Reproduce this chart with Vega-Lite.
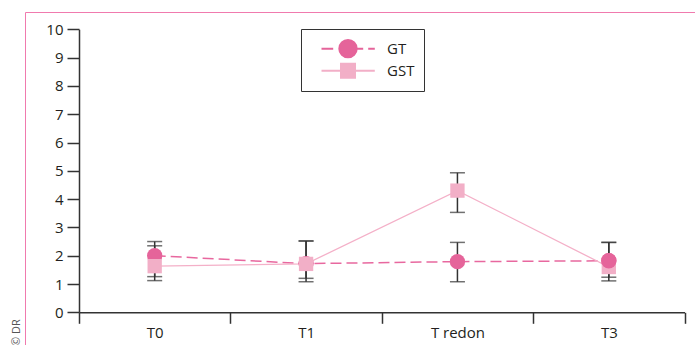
{
  "$schema": "https://vega.github.io/schema/vega-lite/v6.json",
  "autosize": "none",
  "width": 672,
  "height": 334,
  "padding": {"left": 25, "top": 12, "right": 0, "bottom": 0},
  "background": "white",
  "title": {"text": "© DR", "orient": "left", "anchor": "start", "fontSize": 11, "fontWeight": "normal", "color": "#555555", "font": "Open Sans", "offset": 3},
  "config": {
    "view": {"stroke": "#F07AAE", "strokeWidth": 1},
    "font": "Open Sans",
    "axis": {"grid": false, "title": null, "domainColor": "#333333", "tickColor": "#333333", "domainWidth": 1.5, "tickWidth": 1.5, "labelColor": "#231F20", "labelFont": "Open Sans", "labelFontSize": 15},
    "axisY": {"tickCount": 20, "labelOverlap": false, "tickSize": 12, "labelPadding": 4, "offset": -54}
  },
  "data": {"values": [
    {"time": "T0", "group": "GT", "mean": 2.0, "lo": 1.26, "hi": 2.5},
    {"time": "T1", "group": "GT", "mean": 1.72, "lo": 1.2, "hi": 2.52},
    {"time": "T redon", "group": "GT", "mean": 1.79, "lo": 1.08, "hi": 2.47},
    {"time": "T3", "group": "GT", "mean": 1.82, "lo": 1.24, "hi": 2.47},
    {"time": "T0", "group": "GST", "mean": 1.63, "lo": 1.12, "hi": 2.35},
    {"time": "T1", "group": "GST", "mean": 1.71, "lo": 1.08, "hi": 2.52},
    {"time": "T redon", "group": "GST", "mean": 4.3, "lo": 3.53, "hi": 4.93},
    {"time": "T3", "group": "GST", "mean": 1.6, "lo": 1.11, "hi": 2.47}
  ]},
  "encoding": {
    "x": {"field": "time", "type": "nominal", "sort": ["T0", "T1", "T redon", "T3"],
      "scale": {"range": [54, 659.5], "paddingInner": 0, "paddingOuter": 0},
      "axis": {"orient": "bottom", "offset": -33.7, "tickBand": "extent", "tickSize": 11, "labelPadding": 2, "labelAngle": 0}}
  },
  "layer": [
    {
      "mark": {"type": "rule", "color": "#333333", "strokeWidth": 1.5},
      "encoding": {
        "y": {"field": "lo", "type": "quantitative", "scale": {"domain": [0, 10], "range": [300.3, 17.3], "nice": false},
          "axis": {"values": [0,1,2,3,4,5,6,7,8,9,10], "tickCount": 20, "format": "d"}},
        "y2": {"field": "hi"}
      }
    },
    {
      "mark": {"type": "tick", "color": "#333333", "thickness": 1.5, "size": 15, "orient": "horizontal"},
      "encoding": {"y": {"field": "lo", "type": "quantitative"}}
    },
    {
      "mark": {"type": "tick", "color": "#333333", "thickness": 1.5, "size": 15, "orient": "horizontal"},
      "encoding": {"y": {"field": "hi", "type": "quantitative"}}
    },
    {
      "transform": [{"filter": "datum.group === 'GT'"}],
      "mark": {"type": "line", "color": "#E8689F", "strokeWidth": 1.5, "strokeDash": [11, 5]},
      "encoding": {"y": {"field": "mean", "type": "quantitative"}}
    },
    {
      "transform": [{"filter": "datum.group === 'GST'"}],
      "mark": {"type": "line", "color": "#F4B0C8", "strokeWidth": 1.3},
      "encoding": {"y": {"field": "mean", "type": "quantitative"}}
    },
    {
      "transform": [{"filter": "datum.group === 'GT'"}],
      "mark": {"type": "point", "shape": "circle", "filled": true, "opacity": 1, "color": "#E5649A", "size": 236},
      "encoding": {"y": {"field": "mean", "type": "quantitative"}}
    },
    {
      "transform": [{"filter": "datum.group === 'GST'"}],
      "mark": {"type": "point", "shape": "square", "filled": true, "opacity": 1, "color": "#F2AFC7", "size": 205},
      "encoding": {"y": {"field": "mean", "type": "quantitative"}}
    },
    {
      "transform": [{"filter": "datum.group === 'GT' && datum.time === 'T3'"}],
      "mark": {"type": "point", "shape": "circle", "filled": true, "opacity": 1, "color": "#E5649A", "size": 236},
      "encoding": {"y": {"field": "mean", "type": "quantitative"}}
    },
    {
      "mark": {"type": "point", "filled": true, "opacity": 0, "strokeWidth": 2},
      "encoding": {
        "y": {"field": "mean", "type": "quantitative"},
        "fill": {"field": "group", "type": "nominal",
          "scale": {"domain": ["GT", "GST"], "range": ["#E5649A", "#F2AFC7"]},
          "legend": {
            "title": null, "orient": "none", "legendX": 276, "legendY": 17,
            "strokeColor": "#333333", "fillColor": "white", "padding": 9,
            "labelFont": "Open Sans", "labelFontSize": 15, "labelColor": "#231F20",
            "symbolSize": 100, "symbolStrokeWidth": 2, "symbolOpacity": 1, "labelOffset": 62, "rowPadding": 0, "clipHeight": 21.3
          }},
        "stroke": {"field": "group", "type": "nominal",
          "scale": {"domain": ["GT", "GST"], "range": ["#E5649A", "#F2AFC7"]},
          "legend": {
            "title": null, "orient": "none", "legendX": 276, "legendY": 17,
            "strokeColor": "#333333", "fillColor": "white", "padding": 9,
            "labelFont": "Open Sans", "labelFontSize": 15, "labelColor": "#231F20",
            "symbolSize": 100, "symbolStrokeWidth": 2, "symbolOpacity": 1, "labelOffset": 62, "rowPadding": 0, "clipHeight": 21.3
          }},
        "shape": {"field": "group", "type": "nominal",
          "scale": {"domain": ["GT", "GST"], "range": [
            "M0.8,0H3.14M7.94,0H9.14M10.14,0H11.46M4.36,0A1.74,1.74 0 1,0 7.84,0A1.74,1.74 0 1,0 4.36,0Z",
            "M0.8,0H11.46M4.7,-1.4H7.5V1.4H4.7Z"]},
          "legend": {
            "title": null, "orient": "none", "legendX": 276, "legendY": 17,
            "strokeColor": "#333333", "fillColor": "white", "padding": 9,
            "labelFont": "Open Sans", "labelFontSize": 15, "labelColor": "#231F20",
            "symbolSize": 100, "symbolStrokeWidth": 2, "symbolOpacity": 1, "labelOffset": 62, "rowPadding": 0, "clipHeight": 21.3
          }}
      }
    }
  ]
}
